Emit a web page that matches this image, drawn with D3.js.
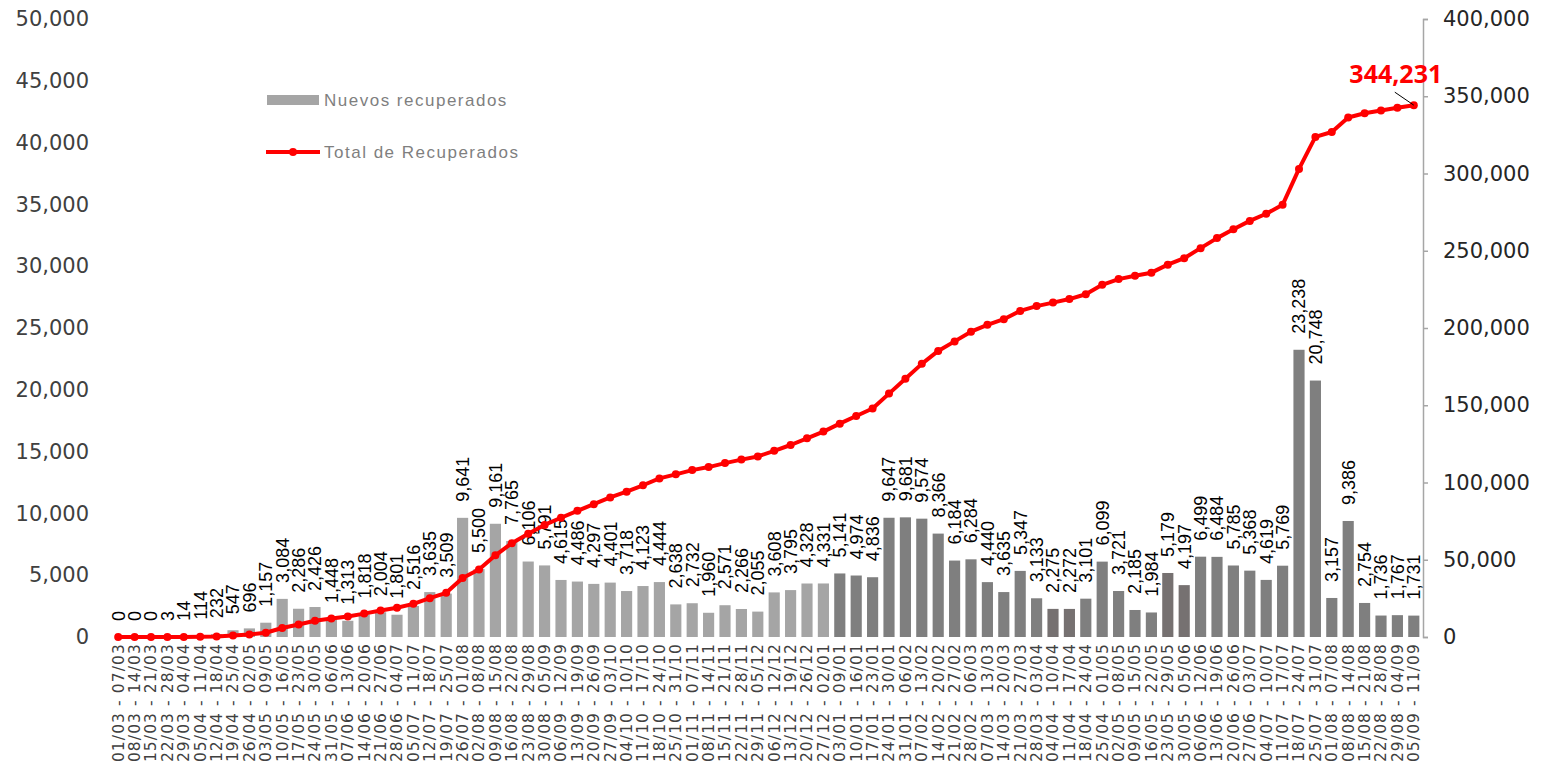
<!DOCTYPE html>
<html>
<head>
<meta charset="utf-8">
<script src="https://cdn.jsdelivr.net/npm/d3@7"></script>
<style>
  body { margin: 0; background: #fff; }
  svg { display: block; }
</style>
</head>
<body>
<svg id="vis" width="1545" height="770"></svg>
<script>
const svg = d3.select("#vis");

// weekly periods
const WEEKS = [
  "01/03 - 07/03", "08/03 - 14/03", "15/03 - 21/03", "22/03 - 28/03", "29/03 - 04/04",
  "05/04 - 11/04", "12/04 - 18/04", "19/04 - 25/04", "26/04 - 02/05", "03/05 - 09/05",
  "10/05 - 16/05", "17/05 - 23/05", "24/05 - 30/05", "31/05 - 06/06", "07/06 - 13/06",
  "14/06 - 20/06", "21/06 - 27/06", "28/06 - 04/07", "05/07 - 11/07", "12/07 - 18/07",
  "19/07 - 25/07", "26/07 - 01/08", "02/08 - 08/08", "09/08 - 15/08", "16/08 - 22/08",
  "23/08 - 29/08", "30/08 - 05/09", "06/09 - 12/09", "13/09 - 19/09", "20/09 - 26/09",
  "27/09 - 03/10", "04/10 - 10/10", "11/10 - 17/10", "18/10 - 24/10", "25/10 - 31/10",
  "01/11 - 07/11", "08/11 - 14/11", "15/11 - 21/11", "22/11 - 28/11", "29/11 - 05/12",
  "06/12 - 12/12", "13/12 - 19/12", "20/12 - 26/12", "27/12 - 02/01", "03/01 - 09/01",
  "10/01 - 16/01", "17/01 - 23/01", "24/01 - 30/01", "31/01 - 06/02", "07/02 - 13/02",
  "14/02 - 20/02", "21/02 - 27/02", "28/02 - 06/03", "07/03 - 13/03", "14/03 - 20/03",
  "21/03 - 27/03", "28/03 - 03/04", "04/04 - 10/04", "11/04 - 17/04", "18/04 - 24/04",
  "25/04 - 01/05", "02/05 - 08/05", "09/05 - 15/05", "16/05 - 22/05", "23/05 - 29/05",
  "30/05 - 05/06", "06/06 - 12/06", "13/06 - 19/06", "20/06 - 26/06", "27/06 - 03/07",
  "04/07 - 10/07", "11/07 - 17/07", "18/07 - 24/07", "25/07 - 31/07", "01/08 - 07/08",
  "08/08 - 14/08", "15/08 - 21/08", "22/08 - 28/08", "29/08 - 04/09", "05/09 - 11/09"
];

// Nuevos recuperados (bars, left axis)
const NEW_RECOVERED = [
  0, 0, 0, 3, 14, 114, 232, 547, 696, 1157,
  3084, 2286, 2426, 1448, 1313, 1818, 2004, 1801, 2516, 3635,
  3509, 9641, 5500, 9161, 7765, 6106, 5791, 4615, 4486, 4297,
  4401, 3718, 4123, 4444, 2638, 2732, 1960, 2571, 2266, 2055,
  3608, 3795, 4328, 4331, 5141, 4974, 4836, 9647, 9681, 9574,
  8366, 6184, 6284, 4440, 3635, 5347, 3133, 2275, 2272, 3101,
  6099, 3721, 2185, 1984, 5179, 4197, 6499, 6484, 5785, 5368,
  4619, 5769, 23238, 20748, 3157, 9386, 2754, 1736, 1767, 1731
];

// Total de Recuperados (line, right axis)
const TOTAL_RECOVERED = [
  0, 0, 0, 3, 17, 131, 363, 910, 1606, 2763,
  5847, 8133, 10559, 12007, 13320, 15138, 17142, 18943, 21459, 25094,
  28603, 38244, 43744, 52905, 60670, 66776, 72567, 77182, 81668, 85965,
  90366, 94084, 98207, 102651, 105289, 108021, 109981, 112552, 114818, 116873,
  120481, 124276, 128604, 132935, 138076, 143050, 147886, 157533, 167214, 176788,
  185154, 191338, 197622, 202062, 205697, 211044, 214177, 216452, 218724, 221825,
  227924, 231645, 233830, 235814, 240993, 245190, 251689, 258173, 263958, 269326,
  273945, 279714, 302952, 323700, 326857, 336243, 338997, 340733, 342500, 344231
];

const LEFT_TICKS = [0, 5000, 10000, 15000, 20000, 25000, 30000, 35000, 40000, 45000, 50000];
const RIGHT_TICKS = [0, 50000, 100000, 150000, 200000, 250000, 300000, 350000, 400000];

const LIGHT = "#a5a5a5", DARK = "#7f7f7f", DARKER = "#767171";
const FIRST_2021 = 44;               // 03/01 - 09/01 onwards drawn darker
const BROWNISH = [57, 58, 64, 65];   // a few bars have a slightly warmer grey
const fmt = d3.format(",");

const plot = {left: 110, right: 1422, top: 19, bottom: 637};

const x = d3.scaleBand().domain(d3.range(WEEKS.length)).range([plot.left, plot.right]).paddingInner(0.32).paddingOuter(0.16);
const yL = d3.scaleLinear().domain([0, 50000]).range([plot.bottom, plot.top]);
const yR = d3.scaleLinear().domain([0, 400000]).range([plot.bottom, plot.top]);
const cx = i => x(i) + x.bandwidth() / 2;

function main() {
  drawAxes();
  drawBars();
  drawLine();
  drawLegend();
  drawCallout();
}

function drawAxes() {
  // left axis: labels only
  const gl = svg.append("g").attr("transform", `translate(${plot.left - 20},0)`)
    .call(d3.axisLeft(yL).tickValues(LEFT_TICKS).tickFormat(fmt).tickSize(0));
  gl.select(".domain").remove();
  gl.selectAll("text").attr("x", -1).attr("fill", "#404040")
    .style("font-family", "DejaVu Sans").style("font-size", "21px");

  // right axis: grey line, outward ticks
  const gr = svg.append("g").attr("transform", `translate(${plot.right + 1},0)`)
    .call(d3.axisRight(yR).tickValues(RIGHT_TICKS).tickFormat(fmt).tickSize(5).tickSizeOuter(5).tickPadding(15));
  gr.select(".domain").attr("stroke", "#a6a6a6").attr("stroke-width", 1.5);
  gr.selectAll(".tick line").attr("stroke", "#a6a6a6").attr("stroke-width", 1.5);
  gr.selectAll("text").attr("fill", "#262626")
    .style("font-family", "DejaVu Sans").style("font-size", "21px");

  // category labels, rotated
  svg.append("g").selectAll("text").data(WEEKS).join("text")
    .attr("transform", (d, i) => `translate(${cx(i)},${plot.bottom + 6}) rotate(-90)`)
    .attr("text-anchor", "end")
    .attr("dy", "0.35em")
    .attr("fill", "#404040")
    .style("font-family", "DejaVu Sans")
    .style("font-size", "15.5px")
    .style("letter-spacing", "1.1px")
    .text(d => d);
}

function drawBars() {
  svg.append("g").selectAll("rect").data(NEW_RECOVERED).join("rect")
    .attr("x", (d, i) => x(i))
    .attr("width", x.bandwidth())
    .attr("y", d => yL(d))
    .attr("height", d => plot.bottom - yL(d))
    .attr("fill", (d, i) => i < FIRST_2021 ? LIGHT : (BROWNISH.includes(i) ? DARKER : DARK));

  svg.append("g").selectAll("text").data(NEW_RECOVERED).join("text")
    .attr("transform", (d, i) => `translate(${cx(i)},${yL(d) - 16}) rotate(-90)`)
    .attr("dy", "0.35em")
    .attr("fill", "#000")
    .style("font-family", "Liberation Sans")
    .style("font-size", "18px")
    .text(d => fmt(d));
}

function drawLine() {
  const line = d3.line().x((d, i) => cx(i)).y(d => yR(d));
  svg.append("path").datum(TOTAL_RECOVERED)
    .attr("d", line)
    .attr("fill", "none")
    .attr("stroke", "#ff0000")
    .attr("stroke-width", 4)
    .attr("stroke-linejoin", "round");
  svg.append("g").selectAll("circle").data(TOTAL_RECOVERED).join("circle")
    .attr("cx", (d, i) => cx(i))
    .attr("cy", d => yR(d))
    .attr("r", 4)
    .attr("fill", "#ff0000");
}

function drawLegend() {
  const lg = svg.append("g").style("font-family", "Liberation Sans").style("font-size", "17px");
  lg.append("rect").attr("x", 267).attr("y", 95).attr("width", 52).attr("height", 10).attr("fill", LIGHT);
  lg.append("text").attr("x", 324).attr("y", 100).attr("dy", "0.35em")
    .attr("fill", "#7f7f7f").style("letter-spacing", "1.5px").text("Nuevos recuperados");
  lg.append("line").attr("x1", 266).attr("x2", 320).attr("y1", 152).attr("y2", 152)
    .attr("stroke", "#ff0000").attr("stroke-width", 4);
  lg.append("circle").attr("cx", 293).attr("cy", 152).attr("r", 4).attr("fill", "#ff0000");
  lg.append("text").attr("x", 324).attr("y", 152).attr("dy", "0.35em")
    .attr("fill", "#7f7f7f").style("letter-spacing", "1.5px").text("Total de Recuperados");
}

function drawCallout() {
  const last = TOTAL_RECOVERED.length - 1;
  const px = cx(last), py = yR(TOTAL_RECOVERED[last]);
  svg.append("line")
    .attr("x1", px - 19).attr("y1", py - 13).attr("x2", px).attr("y2", py)
    .attr("stroke", "#000").attr("stroke-width", 1);
  svg.append("text")
    .attr("x", px - 18).attr("y", py - 22)
    .attr("text-anchor", "middle")
    .attr("fill", "#ff0000")
    .style("font-family", "Open Sans")
    .style("font-weight", "bold")
    .style("font-size", "25px")
    .text(fmt(TOTAL_RECOVERED[last]));
}

main();
</script>
</body>
</html>
